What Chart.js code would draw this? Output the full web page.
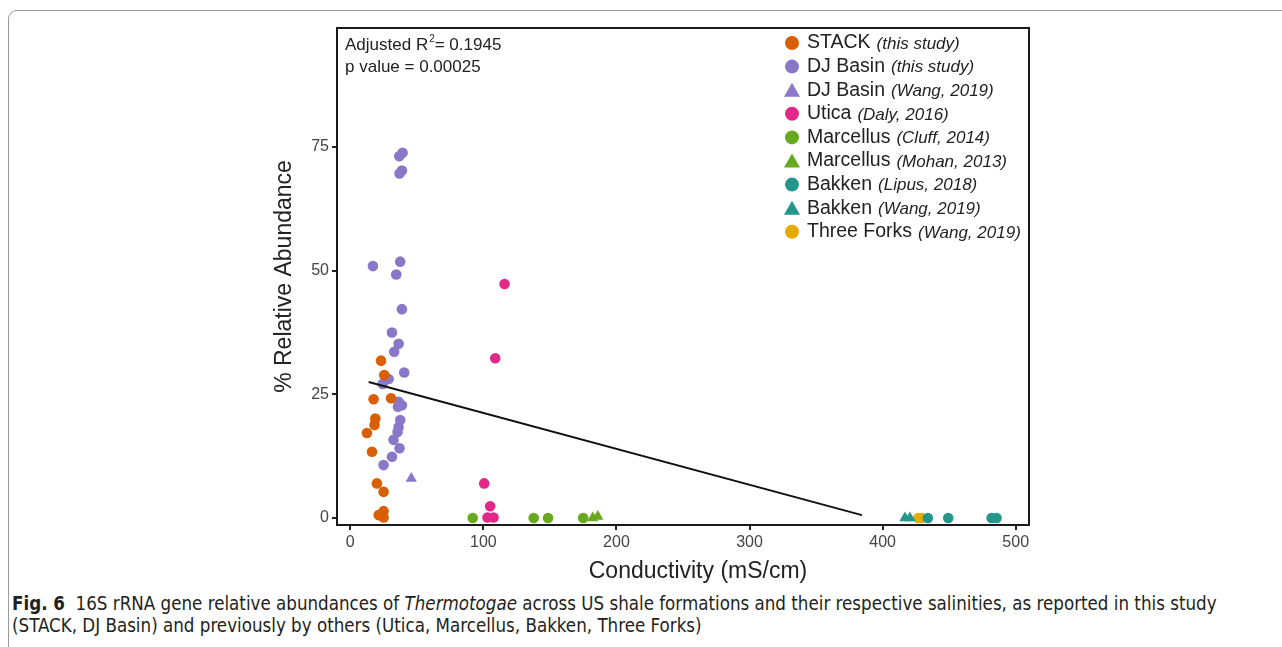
<!DOCTYPE html>
<html>
<head>
<meta charset="utf-8">
<script src="https://cdn.jsdelivr.net/npm/chart.js@4.4.0/dist/chart.umd.min.js"></script>
<style>
  body { margin: 0; background: #fff; width: 1282px; height: 647px; overflow: hidden; position: relative; font-family: 'Liberation Sans', Arial, sans-serif; }
  #frame { position: absolute; left: 8px; top: 10px; width: 1300px; height: 680px; border: 1px solid #9a9a9a; border-radius: 9px; }
  #wrap { position: absolute; left: 0; top: 0; width: 1282px; height: 585px; }
  #caption { position: absolute; left: 12px; top: 593px; white-space: nowrap; font-family: 'Liberation Sans Narrow', 'DejaVu Sans Condensed', sans-serif; font-size: 18.6px; line-height: 22px; color: #231f20; }
</style>
</head>
<body>
<div id="frame"></div>
<div id="wrap"><canvas id="chart"></canvas></div>
<div id="caption"><b>Fig. 6</b>&nbsp; 16S rRNA gene relative abundances of <i>Thermotogae</i> across US shale formations and their respective salinities, as reported in this study<br>(STACK, DJ Basin) and previously by others (Utica, Marcellus, Bakken, Three Forks)</div>
<script>
document.addEventListener('DOMContentLoaded', () => {

    // --- Data ---
    const stackX = [23.1, 25.5, 17.5, 30.6, 18.8, 18.2, 12.5, 16.3, 20.0, 25.0, 21.3, 25.0, 25.0];
    const stackY = [31.8, 28.9, 24.0, 24.2, 20.1, 18.8, 17.2, 13.4, 7.0, 5.3, 0.6, 1.4, 0.1];

    const djX = [36.8, 39.3, 38.8, 37.0, 17.0, 37.5, 34.5, 38.8, 31.3, 36.3, 33.0, 40.5, 28.8, 24.3, 36.3, 38.8, 35.8, 37.5, 36.3, 35.5, 32.5, 37.0, 31.3, 25.0];
    const djY = [73.1, 73.8, 70.2, 69.6, 50.9, 51.8, 49.2, 42.2, 37.5, 35.2, 33.6, 29.4, 28.1, 27.1, 23.5, 22.8, 22.5, 19.8, 18.4, 17.4, 15.8, 14.1, 12.4, 10.7];

    const djWangX = [45.8];
    const djWangY = [8.0];

    const uticaX = [115.9, 108.9, 100.6, 105.1, 103.1, 107.6];
    const uticaY = [47.3, 32.3, 7.0, 2.4, 0.1, 0.1];

    const cluffX = [92.0, 137.8, 148.6, 175.0];
    const cluffY = [0, 0, 0, 0];

    const mohanX = [182.2, 186.0];
    const mohanY = [0, 0.3];

    const lipusX = [434.0, 449.3, 481.9, 485.6];
    const lipusY = [0, 0, 0, 0];

    const bakkenWangX = [416.8, 420.5];
    const bakkenWangY = [0, 0];

    const forksX = [426.8, 429.3];
    const forksY = [0, 0];

    const fitX = [13.8, 384.5];
    const fitY = [27.5, 0.6];

    const xTicks = [0, 100, 200, 300, 400, 500];
    const yTicks = [0, 25, 50, 75];

    const seriesNames = ['STACK', 'DJ Basin', 'DJ Basin', 'Utica', 'Marcellus', 'Marcellus', 'Bakken', 'Bakken', 'Three Forks'];
    const seriesCites = ['(this study)', '(this study)', '(Wang, 2019)', '(Daly, 2016)', '(Cluff, 2014)', '(Mohan, 2013)', '(Lipus, 2018)', '(Wang, 2019)', '(Wang, 2019)'];
    const seriesShapes = ['circle', 'circle', 'triangle', 'circle', 'circle', 'triangle', 'circle', 'triangle', 'circle'];
    const seriesColors = ['#d95f02', '#8a77c8', '#8a77c8', '#e2298a', '#68a91e', '#68a91e', '#23968a', '#23968a', '#e6ab02'];
    const seriesX = [stackX, djX, djWangX, uticaX, cluffX, mohanX, lipusX, bakkenWangX, forksX];
    const seriesY = [stackY, djY, djWangY, uticaY, cluffY, mohanY, lipusY, bakkenWangY, forksY];

    const zip = (xs, ys) => xs.map((x, i) => ({ x: x, y: ys[i] }));

    const pointSets = seriesNames.map((name, i) => ({
        type: 'scatter',
        label: name,
        cite: seriesCites[i],
        data: zip(seriesX[i], seriesY[i]),
        pointStyle: seriesShapes[i],
        pointRadius: seriesShapes[i] === 'triangle' ? 6.5 : 5.3,
        backgroundColor: seriesColors[i],
        borderColor: seriesColors[i],
        borderWidth: 0,
        order: 1
    }));

    const fitSet = {
        type: 'line',
        label: 'fit',
        data: zip(fitX, fitY),
        borderColor: '#111',
        borderWidth: 2,
        pointRadius: 0,
        fill: false,
        order: 0
    };

    // --- Frame, stats text, axis titles and legend ---
    const decor = {
        id: 'decor',
        afterDraw(chart) {
            const ctx = chart.ctx;
            const a = chart.chartArea;
            ctx.save();
            ctx.strokeStyle = '#1a1a1a';
            ctx.lineWidth = 2;
            ctx.strokeRect(a.left, a.top, a.right - a.left, a.bottom - a.top);

            // stats
            ctx.fillStyle = '#222';
            ctx.textBaseline = 'middle';
            ctx.textAlign = 'left';
            ctx.font = '17px "Liberation Sans", Arial, sans-serif';
            const sx = a.left + 8;
            const part1 = 'Adjusted R';
            ctx.fillText(part1, sx, a.top + 17);
            let w = ctx.measureText(part1).width;
            ctx.font = '10px "Liberation Sans", Arial, sans-serif';
            ctx.fillText('2', sx + w + 1, a.top + 11);
            w += ctx.measureText('2').width + 1;
            ctx.font = '17px "Liberation Sans", Arial, sans-serif';
            ctx.fillText('= 0.1945', sx + w, a.top + 17);
            ctx.fillText('p value = 0.00025', sx, a.top + 39);

            // axis titles
            ctx.font = '23px "Liberation Sans", Arial, sans-serif';
            ctx.textAlign = 'center';
            ctx.fillText('Conductivity (mS/cm)', 698, 572);
            ctx.save();
            ctx.translate(285, (a.top + a.bottom) / 2);
            ctx.rotate(-Math.PI / 2);
            ctx.fillText('% Relative Abundance', 0, 0);
            ctx.restore();

            // legend
            const mx = a.right - 237;
            let my = a.top + 15;
            chart.data.datasets.forEach(ds => {
                if (!ds.cite) return;
                ctx.fillStyle = ds.backgroundColor;
                ctx.beginPath();
                if (ds.pointStyle === 'triangle') {
                    ctx.moveTo(mx, my - 7.5);
                    ctx.lineTo(mx + 8, my + 6.5);
                    ctx.lineTo(mx - 8, my + 6.5);
                    ctx.closePath();
                } else {
                    ctx.arc(mx, my, 7, 0, Math.PI * 2);
                }
                ctx.fill();
                ctx.fillStyle = '#222';
                ctx.textAlign = 'left';
                ctx.font = '19.5px "Liberation Sans", Arial, sans-serif';
                ctx.fillText(ds.label, mx + 15, my);
                const nw = ctx.measureText(ds.label).width;
                ctx.font = 'italic 17px "Liberation Sans", Arial, sans-serif';
                ctx.fillText(ds.cite, mx + 15 + nw + 6, my + 1);
                my += 23.6;
            });
            ctx.restore();
        }
    };

    const chart = new Chart(document.getElementById('chart'), {
        data: { datasets: [fitSet].concat(pointSets) },
        options: {
            responsive: true,
            maintainAspectRatio: false,
            animation: false,
            layout: { padding: { left: 275, right: 253, top: 28, bottom: 0 } },
            plugins: { legend: { display: false }, tooltip: { enabled: false } },
            scales: {
                x: {
                    type: 'linear',
                    min: -10,
                    max: 510,
                    afterBuildTicks: s => { s.ticks = xTicks.map(v => ({ value: v })); },
                    afterFit: s => { s.height = 60; },
                    grid: { drawOnChartArea: false, drawTicks: true, tickLength: 5, color: '#222', lineWidth: 2 },
                    border: { display: true, color: '#1a1a1a', width: 2 },
                    ticks: { color: '#444', font: { size: 16, family: '"Liberation Sans", Arial, sans-serif' }, padding: 3 }
                },
                y: {
                    type: 'linear',
                    min: -1.4,
                    max: 99,
                    afterBuildTicks: s => { s.ticks = yTicks.map(v => ({ value: v })); },
                    afterFit: s => { s.width = 62; },
                    grid: { drawOnChartArea: false, drawTicks: true, tickLength: 5, color: '#222', lineWidth: 2 },
                    border: { display: true, color: '#1a1a1a', width: 2 },
                    ticks: { color: '#444', font: { size: 16, family: '"Liberation Sans", Arial, sans-serif' }, padding: 3 }
                }
            }
        },
        plugins: [decor]
    });
});
</script>
</body>
</html>
